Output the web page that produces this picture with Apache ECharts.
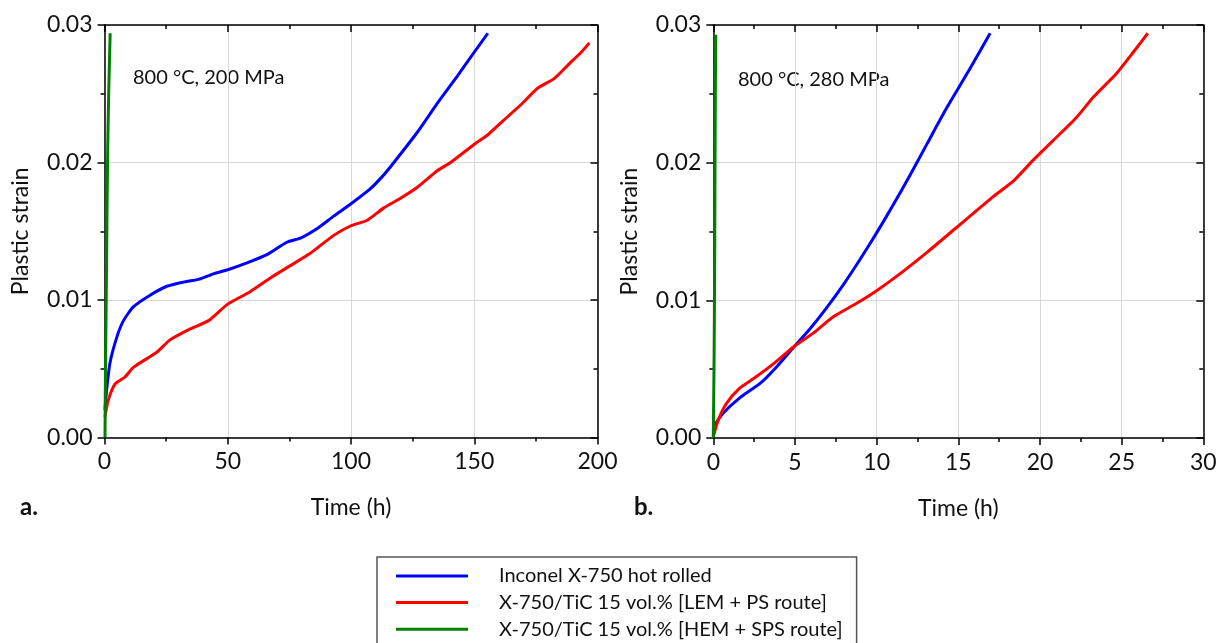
<!DOCTYPE html>
<html>
<head>
<meta charset="utf-8">
<script src="https://cdn.jsdelivr.net/npm/echarts@6/dist/echarts.min.js"></script>
<style>
  html, body { margin: 0; padding: 0; background: #fff; }
  #chart { width: 1226px; height: 643px; }
</style>
</head>
<body>
<div id="chart"></div>
<script>
// Creep curves, 800 °C — (a) 200 MPa, (b) 280 MPa
const seriesNames = [
  'Inconel X-750 hot rolled',
  'X-750/TiC 15 vol.% [LEM + PS route]',
  'X-750/TiC 15 vol.% [HEM + SPS route]'
];
const seriesColors = ['#0000FF', '#FF0000', '#008000'];

// Panel a: 800 °C, 200 MPa  — time (h) / plastic strain
const inconelTimeA = [0.2, 0.6, 2.2, 5.0, 7.7, 11.7, 18.5, 25.3, 32, 38.1, 44.2, 50, 57.8, 65.9, 74, 79.5, 86.3, 93, 100, 107.9, 113.3, 117.4, 126.9, 135, 143.2, 149.9, 155.5];
const inconelStrainA = [0.0020, 0.0030, 0.0054, 0.0073, 0.0085, 0.0095, 0.01035, 0.0110, 0.0113, 0.0115, 0.0119, 0.0122, 0.0127, 0.0133, 0.0142, 0.0145, 0.0152, 0.0161, 0.0170, 0.0181, 0.0191, 0.0200, 0.0222, 0.0243, 0.0263, 0.0280, 0.0294];

const lemTimeA = [0.2, 1.5, 4.3, 8.3, 11.7, 21.2, 26.6, 34.8, 42.2, 50, 59.1, 67.3, 75.4, 83.5, 93, 100, 106.6, 113.3, 120.1, 126.9, 135, 140.4, 150.6, 155.4, 162.1, 168.9, 175.7, 182.4, 189.2, 193.3, 196.7];
const lemStrainA = [0.0015, 0.0027, 0.0039, 0.0044, 0.0051, 0.0062, 0.0071, 0.0079, 0.0085, 0.0097, 0.0106, 0.0116, 0.0125, 0.0134, 0.0147, 0.0154, 0.0158, 0.0167, 0.0174, 0.0182, 0.0194, 0.0200, 0.0214, 0.0220, 0.0231, 0.0242, 0.0254, 0.0261, 0.0273, 0.0280, 0.0287];

const hemTimeA = [0.2, 0.4, 0.7, 1.0, 1.3, 1.7, 2.3];
const hemStrainA = [0.0, 0.005, 0.010, 0.016, 0.021, 0.025, 0.0294];

// Panel b: 800 °C, 280 MPa
const inconelTimeB = [0, 0.6, 1.6, 2.9, 3.9, 5.0, 5.9, 6.9, 8.0, 9.0, 10.0, 11.0, 12.0, 13.1, 14.3, 15.7, 16.95];
const inconelStrainB = [0.0008, 0.0018, 0.0029, 0.0040, 0.0052, 0.0067, 0.0079, 0.0094, 0.0112, 0.0130, 0.0149, 0.0169, 0.0190, 0.0214, 0.0240, 0.0268, 0.0294];

const lemTimeB = [0, 0.3, 0.8, 1.6, 2.45, 3.7, 5.0, 6.1, 7.35, 8.8, 10.0, 11.4, 13.1, 14.8, 15.7, 17.1, 18.4, 19.6, 20.8, 22.25, 23.3, 24.7, 25.7, 26.6];
const lemStrainB = [0.0001, 0.0013, 0.0025, 0.0036, 0.0043, 0.0054, 0.0067, 0.0076, 0.0088, 0.0098, 0.0107, 0.0119, 0.0135, 0.0152, 0.0161, 0.0175, 0.0187, 0.0202, 0.0216, 0.0233, 0.0248, 0.0265, 0.0280, 0.0294];

const hemTimeB = [0, 0.05, 0.08, 0.1, 0.12, 0.15];
const hemStrainB = [0.0, 0.006, 0.012, 0.018, 0.024, 0.0293];

// Axis ranges and ticks
const timeMaxA = 200, timeStepA = 50;
const timeMaxB = 30, timeStepB = 5;
const strainMax = 0.03, strainStep = 0.01;
const panelLabels = ['a.', 'b.'];
const conditionLabels = ['800 °C, 200 MPa', '800 °C, 280 MPa'];
const xAxisTitle = 'Time (h)';
const yAxisTitle = 'Plastic strain';

const FONT = 'Lato, "Noto Sans", sans-serif';
const INK = '#111';
const LABEL_SIZE = 23;

const pairs = (xs, ys) => xs.map((x, i) => [x, ys[i]]);

function mainX(gridIndex, max, step) {
  return {
    type: 'value', gridIndex, min: 0, max, interval: step, position: 'bottom',
    name: xAxisTitle, nameLocation: 'middle', nameGap: 59,
    nameTextStyle: { fontFamily: FONT, fontSize: LABEL_SIZE, color: INK },
    axisLine: { onZero: false, lineStyle: { color: '#000', width: 1.5 } },
    axisTick: { inside: false, length: 7, lineStyle: { color: '#000', width: 1.5 } },
    minorTick: { show: true, splitNumber: 2, length: 4, lineStyle: { color: '#000', width: 1.5 } },
    axisLabel: { fontFamily: FONT, fontSize: LABEL_SIZE, color: INK, margin: 13 },
    splitLine: { show: true, lineStyle: { color: '#d8d8d8', width: 1 } }
  };
}
function mirrorX(gridIndex, max, step) {
  return {
    type: 'value', gridIndex, min: 0, max, interval: step, position: 'top',
    axisLine: { onZero: false, lineStyle: { color: '#000', width: 1.5 } },
    axisTick: { inside: true, length: 7, lineStyle: { color: '#000', width: 1.5 } },
    minorTick: { show: true, splitNumber: 2, length: 4, lineStyle: { color: '#000', width: 1.5 } },
    axisLabel: { show: false }, splitLine: { show: false }
  };
}
function mainY(gridIndex) {
  return {
    type: 'value', gridIndex, min: 0, max: strainMax, interval: strainStep, position: 'left',
    name: yAxisTitle, nameLocation: 'middle', nameGap: 72, nameRotate: 90,
    nameTextStyle: { fontFamily: FONT, fontSize: LABEL_SIZE, color: INK },
    axisLine: { onZero: false, lineStyle: { color: '#000', width: 1.5 } },
    axisTick: { inside: false, length: 7, lineStyle: { color: '#000', width: 1.5 } },
    minorTick: { show: true, splitNumber: 2, length: 4, lineStyle: { color: '#000', width: 1.5 } },
    axisLabel: { fontFamily: FONT, fontSize: LABEL_SIZE, color: INK, margin: 12, formatter: v => v.toFixed(2) },
    splitLine: { show: true, lineStyle: { color: '#d8d8d8', width: 1 } }
  };
}
function mirrorY(gridIndex) {
  return {
    type: 'value', gridIndex, min: 0, max: strainMax, interval: strainStep, position: 'right',
    axisLine: { onZero: false, lineStyle: { color: '#000', width: 1.5 } },
    axisTick: { inside: true, length: 7, lineStyle: { color: '#000', width: 1.5 } },
    minorTick: { show: true, splitNumber: 2, length: 4, lineStyle: { color: '#000', width: 1.5 } },
    axisLabel: { show: false }, splitLine: { show: false }
  };
}
function curve(nameIdx, xIdx, yIdx, data, z) {
  return {
    type: 'line', name: seriesNames[nameIdx], xAxisIndex: xIdx, yAxisIndex: yIdx,
    data, showSymbol: false, symbol: 'none', smooth: 0.2, z: z || 2,
    lineStyle: { color: seriesColors[nameIdx], width: 3 },
    itemStyle: { color: seriesColors[nameIdx] }
  };
}

const chart = echarts.init(document.getElementById('chart'), null, { renderer: 'canvas' });
chart.setOption({
  animation: false,
  backgroundColor: '#fff',
  grid: [
    { left: 104.5, top: 25, width: 493, height: 412.5 },
    { left: 713.3, top: 25, width: 490, height: 413 }
  ],
  xAxis: [
    mainX(0, timeMaxA, timeStepA), mainX(1, timeMaxB, timeStepB),
    mirrorX(0, timeMaxA, timeStepA), mirrorX(1, timeMaxB, timeStepB)
  ],
  yAxis: [mainY(0), mainY(1), mirrorY(0), mirrorY(1)],
  legend: {
    orient: 'vertical', left: 377, top: 557, height: 120,
    padding: [9, 14, 9, 19], itemGap: 6.6, itemWidth: 72, itemHeight: 3,
    icon: 'rect',
    borderColor: '#555', borderWidth: 1.5, backgroundColor: '#fff',
    data: seriesNames,
    textStyle: { fontFamily: FONT, fontSize: 20, color: INK, lineHeight: 20, padding: [0, 0, 0, 26] }
  },
  graphic: [
    { type: 'text', left: 20, top: 495, style: { text: panelLabels[0], font: 'bold 24px ' + FONT, fill: INK } },
    { type: 'text', left: 634, top: 495, style: { text: panelLabels[1], font: 'bold 24px ' + FONT, fill: INK } },
    { type: 'text', left: 133, top: 68, style: { text: conditionLabels[0], font: '20px ' + FONT, fill: INK } },
    { type: 'text', left: 738, top: 70, style: { text: conditionLabels[1], font: '20px ' + FONT, fill: INK } }
  ],
  series: [
    curve(0, 0, 0, pairs(inconelTimeA, inconelStrainA)),
    curve(1, 0, 0, pairs(lemTimeA, lemStrainA)),
    curve(2, 0, 0, pairs(hemTimeA, hemStrainA), 3),
    curve(0, 1, 1, pairs(inconelTimeB, inconelStrainB)),
    curve(1, 1, 1, pairs(lemTimeB, lemStrainB)),
    curve(2, 1, 1, pairs(hemTimeB, hemStrainB), 3)
  ]
});
</script>
</body>
</html>
